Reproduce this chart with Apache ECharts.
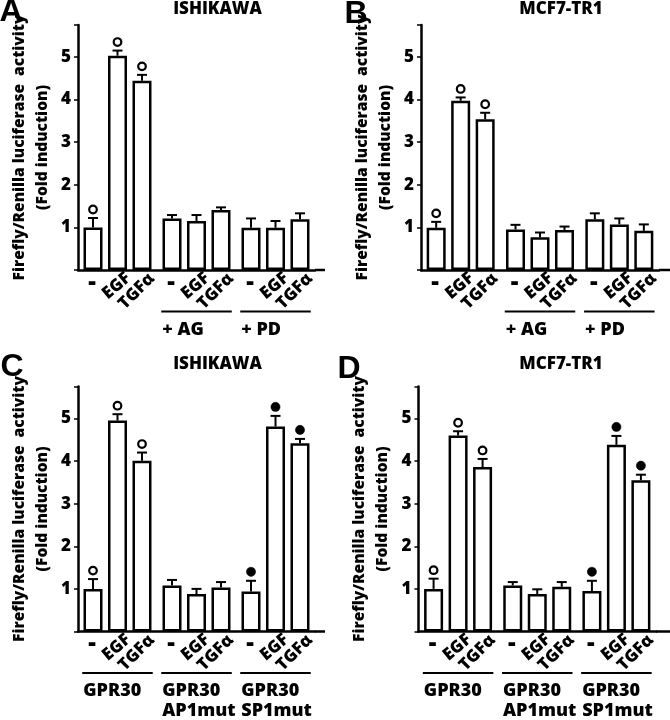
<!DOCTYPE html>
<html><head><meta charset="utf-8">
<script src="https://cdn.jsdelivr.net/npm/echarts@6/dist/echarts.min.js"></script>
<style>html,body{margin:0;padding:0;background:#fff}#c{width:670px;height:720px}</style>
</head><body><div id="c"></div>
<script>
// ---------- data ----------
const treatments = ['-', 'EGF', 'TGFα'];
const groupsAB = ['', '+ AG', '+ PD'];
const groupsCD = ['GPR30', 'GPR30\nAP1mut', 'GPR30\nSP1mut'];
const yTicks = [1, 2, 3, 4, 5];
const yAxisName = 'Firefly/Renilla luciferase  activity\n(Fold induction)';

// Panel A – ISHIKAWA
const A_ctrl = [1.00, 1.21, 0.99];
const A_egf  = [5.03, 1.15, 0.99];
const A_tgf  = [4.44, 1.41, 1.19];
const A_ctrlErr = [0.22, 0.08, 0.22];
const A_egfErr  = [0.12, 0.14, 0.16];
const A_tgfErr  = [0.14, 0.06, 0.14];
const A_marks = ['open', '', ''];

// Panel B – MCF7-TR1
const B_ctrl = [0.99, 0.95, 1.19];
const B_egf  = [3.97, 0.77, 1.07];
const B_tgf  = [3.54, 0.94, 0.92];
const B_ctrlErr = [0.14, 0.11, 0.14];
const B_egfErr  = [0.08, 0.11, 0.14];
const B_tgfErr  = [0.15, 0.08, 0.15];
const B_marks = ['open', '', ''];

// Panel C – ISHIKAWA
const C_ctrl = [1.00, 1.08, 0.94];
const C_egf  = [4.95, 0.88, 4.81];
const C_tgf  = [4.01, 1.03, 4.42];
const C_ctrlErr = [0.23, 0.13, 0.25];
const C_egfErr  = [0.15, 0.12, 0.25];
const C_tgfErr  = [0.19, 0.13, 0.10];
const C_marks = ['open', '', 'filled'];

// Panel D – MCF7-TR1
const D_ctrl = [1.00, 1.08, 0.95];
const D_egf  = [4.60, 0.88, 4.38];
const D_tgf  = [3.86, 1.05, 3.55];
const D_ctrlErr = [0.24, 0.08, 0.24];
const D_egfErr  = [0.10, 0.11, 0.21];
const D_tgfErr  = [0.19, 0.11, 0.13];
const D_marks = ['open', '', 'filled'];

const panels = [
  {key: 'A', title: 'ISHIKAWA', groups: groupsAB, vals: [A_ctrl, A_egf, A_tgf], errs: [A_ctrlErr, A_egfErr, A_tgfErr], marks: A_marks},
  {key: 'B', title: 'MCF7-TR1', groups: groupsAB, vals: [B_ctrl, B_egf, B_tgf], errs: [B_ctrlErr, B_egfErr, B_tgfErr], marks: B_marks},
  {key: 'C', title: 'ISHIKAWA', groups: groupsCD, vals: [C_ctrl, C_egf, C_tgf], errs: [C_ctrlErr, C_egfErr, C_tgfErr], marks: C_marks},
  {key: 'D', title: 'MCF7-TR1', groups: groupsCD, vals: [D_ctrl, D_egf, D_tgf], errs: [D_ctrlErr, D_egfErr, D_tgfErr], marks: D_marks}
];

// ---------- layout / style ----------
const FONT = '"Open Sans", "Liberation Sans", sans-serif';
const FW = 800;
const LETTER_FONT = '"Liberation Sans", Arial, sans-serif';
const YMAX = 5.75;
const BAR_W = 19, BAR_STEP = 24.5;
const layout = [
  {left: 78,    top: 25,    width: 237,   height: 245, axisEnd: 325, letterX: 11,  letterY: 12,    titleX: 217.5, titleY: 9},
  {left: 421,   top: 25,    width: 238,   height: 245, axisEnd: 670, letterX: 356, letterY: 14,    titleX: 561,   titleY: 9},
  {left: 78,    top: 386.5, width: 237,   height: 245, axisEnd: 325, letterX: 12,  letterY: 367.5, titleX: 217.5, titleY: 364},
  {left: 418.5, top: 386.5, width: 237.5, height: 245, axisEnd: 670, letterX: 349, letterY: 369,   titleX: 561,   titleY: 364}
];

const grid = [], xAxis = [], yAxis = [], series = [], graphic = [];

panels.forEach((p, k) => {
  const L = layout[k];
  grid.push({left: L.left, top: L.top, width: L.width, height: L.height, containLabel: false, outerBoundsMode: 'none'});
  xAxis.push({
    gridIndex: k, type: 'category', data: p.groups,
    axisLine: {lineStyle: {color: '#000', width: 2.5}},
    axisTick: {show: false}, axisLabel: {show: false}, splitLine: {show: false}
  });
  yAxis.push({
    gridIndex: k, type: 'value', min: 0, max: YMAX, interval: 1,
    axisLine: {show: true, lineStyle: {color: '#000', width: 2.5}},
    axisTick: {show: true, length: 4, lineStyle: {color: '#000', width: 1.5}},
    axisLabel: {
      formatter: v => (yTicks.indexOf(v) >= 0 ? String(v) : ''),
      color: '#000', fontFamily: FONT, fontWeight: FW, fontSize: 17, margin: 7
    },
    splitLine: {show: false},
    name: yAxisName, nameLocation: 'middle', nameGap: 24, nameRotate: 90,
    nameTextStyle: {color: '#000', fontFamily: FONT, fontWeight: FW, fontSize: 15.5, lineHeight: 23}
  });

  p.vals.forEach((vals, t) => {
    series.push({
      type: 'bar', name: treatments[t], xAxisIndex: k, yAxisIndex: k, data: vals,
      barWidth: BAR_W, barGap: ((BAR_STEP - BAR_W) / BAR_W * 100).toFixed(1) + '%',
      itemStyle: {color: '#fff', borderColor: '#000', borderWidth: 2.5},
      silent: true, z: 2
    });
  });

  // error bars, significance markers and treatment labels
  const items = [];
  p.vals.forEach((vals, t) => vals.forEach((v, g) => items.push([g, v, p.errs[t][g], t])));
  series.push({
    type: 'custom', xAxisIndex: k, yAxisIndex: k, data: items, clip: false, silent: true, z: 5,
    renderItem: (params, api) => {
      const [g, v, e, t] = items[params.dataIndex];
      const mk = p.marks[g];
      const c = api.coord([g, v]);
      const base = api.coord([g, 0])[1];
      const topY = api.coord([g, v + e])[1];
      const cx = c[0] + (t - 1) * BAR_STEP;
      const ch = [
        {type: 'line', shape: {x1: cx, y1: c[1], x2: cx, y2: topY}, style: {stroke: '#000', lineWidth: 2}},
        {type: 'line', shape: {x1: cx - 5, y1: topY, x2: cx + 5, y2: topY}, style: {stroke: '#000', lineWidth: 2}}
      ];
      if (mk === 'open') {
        ch.push({type: 'circle', shape: {cx: cx, cy: topY - 8.5, r: 3.8}, style: {fill: '#fff', stroke: '#000', lineWidth: 2.2}});
      } else if (mk === 'filled') {
        ch.push({type: 'circle', shape: {cx: cx, cy: topY - 9, r: 4.6}, style: {fill: '#000', stroke: '#000', lineWidth: 0.5}});
      }
      if (t === 0) {
        ch.push({type: 'text', x: cx - 1, y: base + 13, style: {text: treatments[t], fill: '#000', fontFamily: FONT, fontWeight: FW, fontSize: 24, align: 'center', verticalAlign: 'middle'}});
      } else {
        ch.push({type: 'text', x: cx + (t === 1 ? 11 : 10), y: base + 6, rotation: (t === 1 ? 40 : 45) * Math.PI / 180,
          style: {text: treatments[t], fill: '#000', fontFamily: FONT, fontWeight: FW, fontSize: 17, align: 'right', verticalAlign: 'middle'}});
      }
      return {type: 'group', children: ch};
    }
  });

  // group underline + group label
  const gItems = p.groups.map((name, g) => [g, 0]);
  series.push({
    type: 'custom', xAxisIndex: k, yAxisIndex: k, data: gItems, clip: false, silent: true, z: 5,
    renderItem: (params, api) => {
      const g = params.dataIndex;
      const name = p.groups[g];
      if (!name) return null;
      const c = api.coord([g, 0]);
      const half = BAR_STEP + BAR_W / 2 + 1.25;
      return {type: 'group', children: [
        {type: 'line', shape: {x1: c[0] - half, y1: c[1] + 41.5, x2: c[0] + half, y2: c[1] + 41.5}, style: {stroke: '#000', lineWidth: 2}},
        {type: 'text', x: c[0] - half + 1, y: c[1] + 49.5, style: {text: name, fill: '#000', fontFamily: FONT, fontWeight: FW, fontSize: 18, lineHeight: 20, align: 'left', verticalAlign: 'top'}}
      ]};
    }
  });

  graphic.push(
    {type: 'text', x: L.letterX, y: L.letterY, style: {text: p.key, fill: '#000', fontFamily: LETTER_FONT, fontWeight: 'bold', fontSize: 32, align: 'center', verticalAlign: 'middle'}},
    {type: 'text', x: L.titleX, y: L.titleY, style: {text: p.title, fill: '#000', fontFamily: FONT, fontWeight: FW, fontSize: 17, align: 'center', verticalAlign: 'middle'}},
    {type: 'line', shape: {x1: L.left + L.width, y1: L.top + L.height, x2: L.axisEnd, y2: L.top + L.height}, style: {stroke: '#000', lineWidth: 2.5}}
  );
});

const chart = echarts.init(document.getElementById('c'), null, {renderer: 'canvas'});
chart.setOption({
  animation: false,
  backgroundColor: '#fff',
  grid, xAxis, yAxis, series, graphic
});
</script>
</body></html>
